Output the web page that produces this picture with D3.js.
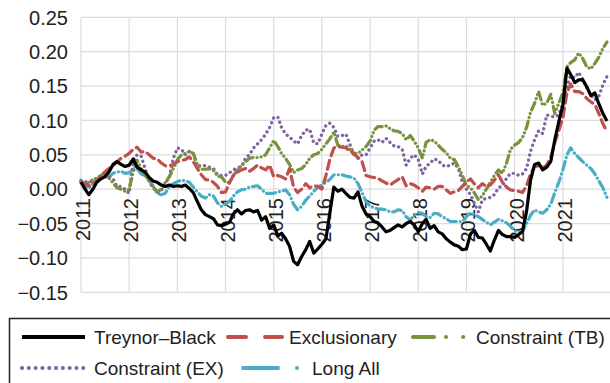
<!DOCTYPE html>
<html><head><meta charset="utf-8">
<script src="https://cdn.jsdelivr.net/npm/d3@7"></script>
<style>
body{margin:0;background:#fff;}
svg{display:block;font-family:"Liberation Sans",Arial,sans-serif;}
</style></head><body>
<svg id="c" width="610" height="383"></svg>
<script>
const seriesNames = ["Treynor–Black","Exclusionary","Constraint (TB)","Constraint (EX)","Long All"];
const startDate = "2011-01-01";
const yTicks = [-0.15,-0.10,-0.05,0.00,0.05,0.10,0.15,0.20,0.25];
const xTickYears = [2011,2012,2013,2014,2015,2016,2017,2018,2019,2020,2021];

const treynorBlack = [0.010,0.000,-0.008,0.000,0.010,0.015,0.018,0.025,0.036,0.040,0.036,0.033,
0.035,0.044,0.032,0.028,0.025,0.017,0.012,0.010,0.006,0.004,0.006,0.004,
0.005,0.004,0.006,0.001,-0.005,-0.018,-0.030,-0.037,-0.040,-0.043,-0.052,-0.053,
-0.051,-0.048,-0.036,-0.030,-0.036,-0.031,-0.030,-0.033,-0.031,-0.045,-0.040,-0.057,
-0.052,-0.068,-0.064,-0.072,-0.083,-0.105,-0.110,-0.098,-0.088,-0.076,-0.093,-0.087,
-0.080,-0.072,-0.035,0.003,-0.003,0.000,-0.006,-0.012,-0.013,-0.004,-0.025,-0.036,
-0.040,-0.047,-0.049,-0.055,-0.062,-0.060,-0.056,-0.052,-0.055,-0.050,-0.047,-0.052,
-0.062,-0.050,-0.044,-0.057,-0.053,-0.062,-0.065,-0.072,-0.077,-0.081,-0.083,-0.088,
-0.087,-0.065,-0.060,-0.070,-0.071,-0.080,-0.090,-0.074,-0.060,-0.066,-0.069,-0.069,
-0.070,-0.066,-0.062,-0.032,0.013,0.036,0.038,0.028,0.032,0.040,0.072,0.098,
0.122,0.176,0.167,0.155,0.159,0.159,0.149,0.136,0.140,0.124,0.110,0.099];

const exclusionary = [0.010,0.008,0.005,0.008,0.012,0.020,0.025,0.030,0.034,0.040,0.045,0.048,
0.052,0.058,0.061,0.054,0.055,0.050,0.045,0.044,0.038,0.034,0.034,0.036,
0.040,0.042,0.043,0.047,0.040,0.030,0.021,0.014,0.013,0.010,0.004,-0.005,
-0.004,0.010,0.020,0.025,0.028,0.030,0.026,0.030,0.035,0.031,0.028,0.035,
0.018,0.020,0.018,0.015,0.030,0.003,-0.005,0.000,0.008,0.002,0.005,0.004,
0.000,0.020,0.043,0.060,0.062,0.061,0.060,0.056,0.051,0.046,0.040,0.020,
0.018,0.017,0.016,0.012,0.009,0.006,0.010,0.014,0.018,0.005,0.008,0.006,
0.002,-0.003,0.003,0.002,0.000,0.004,0.004,-0.001,-0.006,-0.004,-0.002,0.004,
0.010,0.015,0.008,0.002,0.008,0.004,0.006,0.013,0.021,0.010,0.003,-0.001,
-0.002,-0.003,-0.005,0.005,0.022,0.033,0.034,0.031,0.035,0.046,0.068,0.085,
0.104,0.140,0.153,0.142,0.142,0.139,0.132,0.127,0.123,0.110,0.095,0.084];

const constraintTB = [0.010,0.008,0.010,0.014,0.016,0.020,0.021,0.016,0.009,0.002,0.000,-0.003,
0.000,0.025,0.042,0.030,0.020,0.013,0.004,-0.004,0.000,0.010,0.018,0.030,
0.043,0.050,0.052,0.055,0.052,0.036,0.029,0.029,0.030,0.027,0.019,0.018,
0.010,0.010,0.020,0.028,0.034,0.040,0.045,0.046,0.046,0.047,0.050,0.060,
0.071,0.062,0.052,0.045,0.036,0.024,0.028,0.030,0.036,0.045,0.050,0.052,
0.058,0.066,0.073,0.083,0.064,0.062,0.063,0.058,0.052,0.052,0.057,0.062,
0.070,0.086,0.091,0.091,0.092,0.088,0.085,0.084,0.081,0.072,0.078,0.070,
0.060,0.045,0.068,0.072,0.070,0.064,0.058,0.053,0.045,0.043,0.033,0.020,
0.005,0.002,-0.005,-0.015,-0.010,0.000,0.010,0.020,0.028,0.023,0.038,0.058,
0.064,0.068,0.075,0.090,0.112,0.125,0.142,0.122,0.125,0.138,0.110,0.125,
0.140,0.178,0.184,0.188,0.198,0.190,0.178,0.175,0.183,0.192,0.205,0.214];

const constraintEX = [0.012,0.011,0.010,0.012,0.016,0.018,0.020,0.018,0.015,0.004,0.004,0.000,
-0.006,0.040,0.050,0.048,0.030,0.010,0.002,-0.005,-0.002,0.008,0.018,0.045,
0.060,0.058,0.050,0.055,0.052,0.033,0.035,0.034,0.032,0.030,0.021,0.020,
0.020,0.024,0.028,0.031,0.033,0.045,0.050,0.060,0.066,0.072,0.080,0.090,
0.104,0.105,0.090,0.080,0.076,0.070,0.066,0.078,0.086,0.087,0.067,0.066,
0.080,0.093,0.096,0.090,0.077,0.078,0.080,0.065,0.050,0.045,0.050,0.050,
0.060,0.070,0.072,0.068,0.074,0.068,0.063,0.062,0.058,0.035,0.045,0.050,
0.043,0.022,0.033,0.038,0.044,0.042,0.035,0.033,0.035,0.038,0.030,0.010,
0.000,-0.008,-0.020,-0.033,-0.016,-0.013,-0.012,-0.008,0.002,0.005,0.016,0.023,
0.023,0.020,0.022,0.030,0.055,0.072,0.085,0.081,0.108,0.106,0.105,0.108,
0.125,0.150,0.165,0.162,0.170,0.160,0.148,0.137,0.130,0.135,0.152,0.164];

const longAll = [0.013,0.005,0.001,0.008,0.013,0.018,0.018,0.018,0.023,0.025,0.026,0.023,
0.024,0.028,0.030,0.022,0.020,0.014,0.004,-0.006,-0.008,-0.006,0.004,0.008,
0.011,0.013,0.012,0.010,0.003,-0.004,-0.010,-0.013,-0.008,-0.010,-0.020,-0.025,
-0.022,-0.017,-0.010,-0.004,-0.001,0.000,0.003,0.004,0.005,0.000,-0.006,-0.006,
-0.006,-0.004,-0.003,-0.001,-0.008,-0.022,-0.030,-0.025,-0.016,-0.010,-0.003,0.003,
0.006,0.010,0.014,0.021,0.021,0.021,0.019,0.018,0.016,0.008,-0.005,-0.018,
-0.025,-0.027,-0.029,-0.029,-0.030,-0.033,-0.033,-0.030,-0.031,-0.040,-0.045,-0.038,
-0.034,-0.035,-0.040,-0.041,-0.035,-0.036,-0.040,-0.043,-0.047,-0.047,-0.047,-0.047,
-0.040,-0.034,-0.037,-0.040,-0.044,-0.048,-0.052,-0.048,-0.044,-0.046,-0.049,-0.054,
-0.060,-0.063,-0.062,-0.050,-0.038,-0.030,-0.033,-0.035,-0.030,-0.022,-0.005,0.010,
0.028,0.050,0.060,0.052,0.046,0.040,0.035,0.030,0.022,0.012,0.002,-0.012];

const seriesValues = [treynorBlack, exclusionary, constraintTB, constraintEX, longAll];
const colors = ["#000000","#C0504D","#77933C","#8064A2","#4BACC6"];
const plotDash = [null,"9,5","8,4,0.1,4,0.1,4","0.1,5","9,4,0.1,4"];
const legendDash = [null,"18,19","21,12,0.1,17,0.1,30","0.1,6.7","35,19,0.1,30"];
const widths = [3.2,3.2,3.2,3.3,3.2];

const svg = d3.select("#c");
const x = d3.scaleTime().domain([new Date(2011,0,1), new Date(2022,0,1)]).range([81, 611]);
const y = d3.scaleLinear().domain([-0.15,0.25]).range([292.3,17.3]);
const parse = d3.timeParse("%Y-%m-%d");
const t0 = parse(startDate);

// grid
const g = svg.append("g");
g.selectAll("line.h").data(yTicks).join("line")
  .attr("x1",81).attr("x2",611).attr("y1",d=>y(d)).attr("y2",d=>y(d))
  .attr("stroke","#dcdcdc").attr("stroke-width",1.2);
g.selectAll("line.v").data(xTickYears).join("line")
  .attr("x1",d=>x(new Date(d,0,1))).attr("x2",d=>x(new Date(d,0,1)))
  .attr("y1",y(0.25)).attr("y2",y(-0.15))
  .attr("stroke","#dcdcdc").attr("stroke-width",1.2);

// y axis labels
const fmt = d3.format(".2f");
svg.selectAll("text.yl").data(yTicks).join("text")
  .attr("x",68).attr("y",d=>y(d)).attr("dy","0.36em")
  .attr("text-anchor","end").attr("font-size",20).attr("fill","#222")
  .text(d=>fmt(d));

// x tick labels (rotated, inside plot, beneath the lines)
svg.selectAll("text.xl").data(xTickYears).join("text")
  .attr("transform",d=>`translate(${x(new Date(d,0,1))+9},198) rotate(-90)`)
  .attr("text-anchor","end").attr("font-size",20).attr("fill","#222")
  .text(d=>d);

// lines
const line = d3.line().x((d,i)=>x(d3.timeMonth.offset(t0,i))).y(d=>y(d));
const order = [4,3,2,1,0];
order.forEach(k=>{
  svg.append("path").datum(seriesValues[k])
    .attr("d",line).attr("fill","none")
    .attr("stroke",colors[k]).attr("stroke-width",widths[k])
    .attr("stroke-linecap", k===0?"butt":"round")
    .attr("stroke-linejoin","round")
    .attr("stroke-dasharray",plotDash[k]);
});

// legend
svg.append("rect").attr("x",9.5).attr("y",318.5).attr("width",700).attr("height",100)
  .attr("fill","#fff").attr("stroke","#222").attr("stroke-width",1.5);
const legItems = [
  {k:0,x1:22,x2:85,tx:94,row:0},
  {k:1,x1:228,x2:282,tx:289,row:0},
  {k:2,x1:413,x2:465,tx:476,row:0},
  {k:3,x1:22,x2:85,tx:94,row:1},
  {k:4,x1:243,x2:298,tx:312,row:1}
];
const rowY = [337,368];
legItems.forEach(it=>{
  svg.append("line").attr("x1",it.x1).attr("x2",it.x2)
    .attr("y1",rowY[it.row]).attr("y2",rowY[it.row])
    .attr("stroke",colors[it.k]).attr("stroke-width",4)
    .attr("stroke-linecap", it.k===0?"butt":"round")
    .attr("stroke-dasharray",legendDash[it.k]);
  svg.append("text").attr("x",it.tx).attr("y",rowY[it.row]).attr("dy","0.36em")
    .attr("font-size",19).attr("fill","#222").text(seriesNames[it.k]);
});
</script>
</body></html>
